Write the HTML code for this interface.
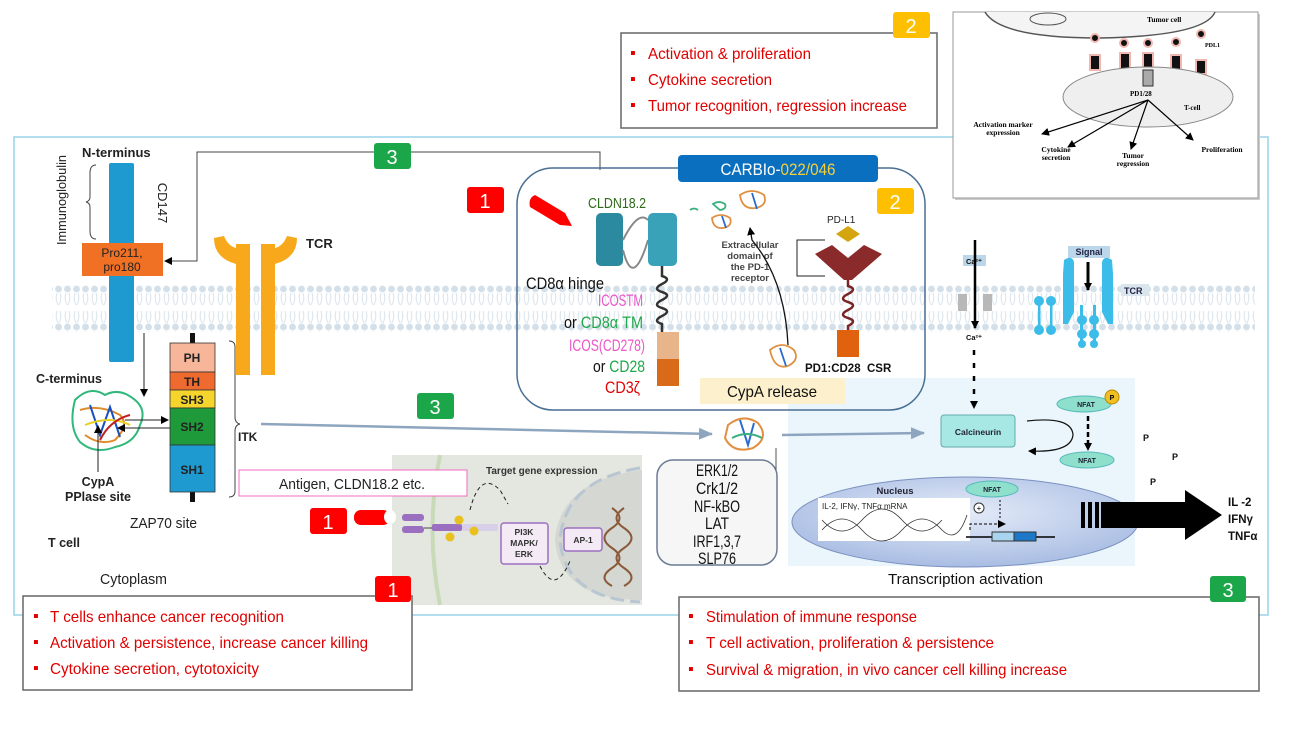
<!DOCTYPE html>
<html><head><meta charset="utf-8"><style>
html,body{margin:0;padding:0;background:#fff}
svg{display:block}
.n{font-family:"Liberation Sans Narrow","Liberation Sans",sans-serif}
.a{font-family:"Liberation Sans",Arial,sans-serif}
.s{font-family:"Liberation Serif",serif;font-weight:bold}
</style></head><body>
<svg width="1292" height="735" viewBox="0 0 1292 735" xmlns="http://www.w3.org/2000/svg">
<defs>
<pattern id="mem" x="0" y="285" width="9" height="46" patternUnits="userSpaceOnUse">
<circle cx="4.5" cy="4" r="3.4" fill="#d3dfe9"/>
<path d="M3 8 q-2 6 1 12 M6 8 q2 6 -1 12 M3 26 q-2 6 1 12 M6 26 q2 6 -1 12" stroke="#dfe7ee" stroke-width="1.2" fill="none"/>
<circle cx="4.5" cy="42" r="3.4" fill="#d3dfe9"/>
</pattern>
<marker id="ah" markerWidth="8" markerHeight="8" refX="7" refY="4" orient="auto" markerUnits="userSpaceOnUse"><path d="M0 0 L8 4 L0 8z" fill="#000"/></marker>
<marker id="ag" markerWidth="14" markerHeight="12" refX="13" refY="6" orient="auto" markerUnits="userSpaceOnUse"><path d="M0 0 L14 6 L0 12z" fill="#8ea5c0"/></marker>
<radialGradient id="nuc" cx="50%" cy="40%" r="60%"><stop offset="0" stop-color="#e4ebf8"/><stop offset="1" stop-color="#a9bde3"/></radialGradient>
</defs>

<rect x="14" y="137" width="1254" height="478" fill="none" stroke="#9ad3ea" stroke-width="1.5"/>

<rect x="788" y="378" width="347" height="188" fill="#eaf6fb"/>
<rect x="392" y="455" width="250" height="150" fill="#e3e7df"/>
<path d="M440 455 Q425 530 440 605" stroke="#c9dab8" stroke-width="4" fill="none"/>
<path d="M642 470 Q560 480 555 540 Q560 600 642 600 Z" fill="#d4d7d2"/>
<path d="M640 468 Q565 480 560 540 Q565 598 640 602" stroke="#b9c6d2" stroke-width="3" stroke-dasharray="14 6" fill="none"/>

<rect x="52" y="285" width="1203" height="47" fill="url(#mem)"/>

<rect x="621" y="33" width="316" height="95" fill="#fff" stroke="#666" stroke-width="1.5"/>
<rect x="893" y="12" width="37" height="26" rx="3" fill="#fdbf00"/>
<text x="911" y="33" class="n" font-size="20" fill="#fff" text-anchor="middle">2</text>
<g class="n" font-size="16" fill="#e00000">
<text x="630" y="58">▪</text><text x="648" y="59" textLength="163" lengthAdjust="spacingAndGlyphs">Activation &amp; proliferation</text>
<text x="630" y="84">▪</text><text x="648" y="85" textLength="124" lengthAdjust="spacingAndGlyphs">Cytokine secretion</text>
<text x="630" y="110">▪</text><text x="648" y="111" textLength="259" lengthAdjust="spacingAndGlyphs">Tumor recognition, regression increase</text>
</g>

<rect x="955" y="14" width="305" height="186" fill="#ccc"/>
<rect x="953" y="12" width="305" height="186" fill="#fff" stroke="#999"/>
<path d="M985 12 Q1000 38 1100 38 Q1205 36 1215 12" fill="#f4f4f4" stroke="#555" stroke-width="1.5"/>
<ellipse cx="1048" cy="19" rx="18" ry="6" fill="none" stroke="#555"/>
<text x="1147" y="22" class="s" font-size="7.5">Tumor cell</text>
<text x="1205" y="47" class="s" font-size="6">PDL1</text>
<g fill="#111" stroke="#f0b8b0" stroke-width="2">
<circle cx="1095" cy="38" r="4"/><circle cx="1124" cy="43" r="4"/><circle cx="1148" cy="43" r="4"/><circle cx="1176" cy="42" r="4"/><circle cx="1201" cy="34" r="4"/>
<rect x="1090" y="55" width="10" height="15"/><rect x="1120" y="53" width="10" height="16"/><rect x="1143" y="53" width="10" height="16"/><rect x="1171" y="55" width="10" height="15"/><rect x="1196" y="60" width="10" height="14"/>
</g>
<ellipse cx="1148" cy="97" rx="85" ry="30" fill="#efefef" stroke="#888"/>
<rect x="1143" y="70" width="10" height="16" fill="#aaa" stroke="#333"/>
<text x="1130" y="96" class="s" font-size="7">PD1/28</text>
<text x="1184" y="110" class="s" font-size="7">T-cell</text>
<g stroke="#000" stroke-width="1.2" marker-end="url(#ah)">
<line x1="1148" y1="100" x2="1042" y2="134"/><line x1="1148" y1="100" x2="1068" y2="147"/><line x1="1148" y1="100" x2="1131" y2="149"/><line x1="1148" y1="100" x2="1193" y2="140"/>
</g>
<g class="s" font-size="7.5" text-anchor="middle">
<text x="1003" y="127">Activation marker</text><text x="1003" y="135">expression</text>
<text x="1056" y="152">Cytokine</text><text x="1056" y="160">secretion</text>
<text x="1133" y="158">Tumor</text><text x="1133" y="166">regression</text>
<text x="1222" y="152">Proliferation</text>
</g>

<text x="82" y="157" class="a" font-size="13" font-weight="bold" fill="#222">N-terminus</text>
<rect x="109" y="163" width="25" height="199" rx="2" fill="#1e9ad0"/>
<path d="M96 165 q-6 0 -6 8 v24 q0 4 -4 5 q4 1 4 5 v24 q0 8 6 8" fill="none" stroke="#444" stroke-width="1"/>
<text transform="translate(66,200) rotate(-90)" class="n" font-size="13" text-anchor="middle" fill="#222" textLength="90" lengthAdjust="spacingAndGlyphs">Immunoglobulin</text>
<text transform="translate(158,203) rotate(90)" class="a" font-size="13" text-anchor="middle" fill="#222">CD147</text>
<rect x="82" y="243" width="81" height="33" fill="#f07024"/>
<text x="122" y="257" class="a" font-size="12" text-anchor="middle" fill="#222">Pro211,</text>
<text x="122" y="271" class="a" font-size="12" text-anchor="middle" fill="#222">pro180</text>
<path d="M600 170 V152 H197 V261 H165" fill="none" stroke="#444" stroke-width="1" marker-end="url(#ah)"/>
<rect x="374" y="143" width="37" height="26" rx="3" fill="#1ba64a"/>
<text x="392" y="164" class="n" font-size="20" fill="#fff" text-anchor="middle">3</text>

<!-- TCR orange -->
<path d="M250 244 L250 375 L236 375 L236 264 Q214 258 214 238 L224 236 Q228 246 236 248 L236 244 Z" fill="#f7a81b"/>
<path d="M261 244 L261 375 L275 375 L275 264 Q297 258 297 238 L287 236 Q283 246 275 248 L275 244 Z" fill="#f7a81b"/>
<text x="306" y="248" class="a" font-size="13" font-weight="bold" fill="#222">TCR</text>

<line x1="144" y1="333" x2="144" y2="396" stroke="#222" stroke-width="1" marker-end="url(#ah)"/>
<rect x="190" y="333" width="5" height="12" fill="#111"/>
<rect x="190" y="490" width="5" height="12" fill="#111"/>
<g stroke="#333" stroke-width="0.8">
<rect x="170" y="343" width="45" height="29" fill="#f7b59a"/>
<rect x="170" y="372" width="45" height="18" fill="#ef6a2e"/>
<rect x="170" y="390" width="45" height="18" fill="#f5d52c"/>
<rect x="170" y="408" width="45" height="37" fill="#1f9a3a"/>
<rect x="170" y="445" width="45" height="47" fill="#1e9ad0"/>
</g>
<g class="a" font-size="12" font-weight="bold" text-anchor="middle" fill="#222">
<text x="192" y="362">PH</text><text x="192" y="386">TH</text><text x="192" y="404">SH3</text><text x="192" y="431">SH2</text><text x="192" y="474">SH1</text>
</g>
<path d="M229 341 q6 0 6 6 v70 q0 6 5 7 q-5 1 -5 7 v60 q0 6 -6 6" fill="none" stroke="#444"/>
<text x="238" y="441" class="a" font-size="12" font-weight="bold" fill="#222">ITK</text>
<text x="36" y="383" class="a" font-size="12.5" font-weight="bold" fill="#222">C-terminus</text>
<g fill="none" stroke-width="2">
<path d="M75 400 q15 -15 30 -5 q15 -8 30 5 q12 10 5 25 q-5 18 -25 22 q-20 8 -35 -5 q-12 -15 -5 -42z" stroke="#2fb87a"/>
<path d="M80 410 q20 -6 40 5 q10 10 -5 25 q-15 6 -30 -5" stroke="#e08a2a"/>
<path d="M90 405 l10 30 l10 -28 l10 30" stroke="#1a50c0"/>
<path d="M85 425 q25 -10 45 0" stroke="#e8d020"/>
<path d="M100 440 q10 -20 30 -25" stroke="#c02020"/>
</g>
<line x1="125" y1="420" x2="168" y2="420" stroke="#222" marker-end="url(#ah)"/>
<line x1="170" y1="428" x2="118" y2="428" stroke="#222" marker-end="url(#ah)"/>
<line x1="98" y1="472" x2="98" y2="426" stroke="#222" marker-end="url(#ah)"/>
<text x="98" y="486" class="a" font-size="12.5" font-weight="bold" text-anchor="middle" fill="#222">CypA</text>
<text x="98" y="501" class="a" font-size="12.5" font-weight="bold" text-anchor="middle" fill="#222">PPlase site</text>
<text x="130" y="528" class="n" font-size="15" fill="#222" textLength="67" lengthAdjust="spacingAndGlyphs">ZAP70 site</text>
<text x="48" y="547" class="a" font-size="12.5" font-weight="bold" fill="#222">T cell</text>
<text x="100" y="584" class="n" font-size="15" fill="#222" textLength="67" lengthAdjust="spacingAndGlyphs">Cytoplasm</text>

<rect x="417" y="393" width="37" height="26" rx="3" fill="#1ba64a"/>
<text x="435" y="414" class="n" font-size="20" fill="#fff" text-anchor="middle">3</text>
<line x1="261" y1="424" x2="712" y2="434" stroke="#8ea5c0" stroke-width="2.5" marker-end="url(#ag)"/>
<rect x="239" y="470" width="228" height="26" fill="#fff" stroke="#f06cc0"/>
<text x="352" y="489" class="n" font-size="15" text-anchor="middle" fill="#222" textLength="146" lengthAdjust="spacingAndGlyphs">Antigen, CLDN18.2 etc.</text>
<rect x="310" y="508" width="37" height="26" rx="3" fill="#ff0000"/>
<text x="328" y="529" class="n" font-size="20" fill="#fff" text-anchor="middle">1</text>
<rect x="354" y="510" width="36" height="15" rx="7" fill="#f00"/>
<ellipse cx="390" cy="517" rx="6" ry="7" fill="#fff"/>
<g fill="#9b6fc0"><rect x="402" y="514" width="22" height="7" rx="3"/><rect x="402" y="526" width="22" height="7" rx="3"/><rect x="432" y="524" width="30" height="7" rx="2"/></g>
<rect x="462" y="524" width="36" height="7" rx="2" fill="#d8d0e8"/>
<line x1="424" y1="528" x2="432" y2="528" stroke="#444"/>
<g fill="#e8c020"><circle cx="459" cy="520" r="4.5"/><circle cx="474" cy="531" r="4.5"/><circle cx="450" cy="537" r="4.5"/></g>
<text x="486" y="474" class="a" font-size="10" font-weight="bold" fill="#333">Target gene expression</text>
<path d="M470 510 q10 -40 30 -20 l8 14" fill="none" stroke="#222" stroke-dasharray="4 3"/>
<rect x="501" y="523" width="47" height="41" rx="3" fill="#f3eaf5" stroke="#9b6fc0" stroke-width="1.5"/>
<g class="a" font-size="8.5" font-weight="bold" text-anchor="middle" fill="#333"><text x="524" y="535">PI3K</text><text x="524" y="546">MAPK/</text><text x="524" y="557">ERK</text></g>
<rect x="564" y="528" width="38" height="23" rx="3" fill="#f3eaf5" stroke="#9b6fc0" stroke-width="1.5"/>
<text x="583" y="543" class="a" font-size="8.5" font-weight="bold" text-anchor="middle" fill="#333">AP-1</text>
<path d="M540 566 q15 30 30 -5" fill="none" stroke="#222" stroke-dasharray="4 3"/>
<path d="M612 508 q15 10 0 20 q-15 10 0 20 q15 10 0 20 q-15 10 0 18 M624 508 q-15 10 0 20 q15 10 0 20 q-15 10 0 20 q15 10 0 18" stroke="#8a5a3a" stroke-width="2" fill="none"/>

<rect x="657" y="460" width="120" height="105" rx="16" fill="#f6f6f6" stroke="#6a7c95" stroke-width="1.5"/>
<line x1="776" y1="448" x2="776" y2="470" stroke="#555"/>
<g class="n" font-size="17" text-anchor="middle" fill="#111" lengthAdjust="spacingAndGlyphs">
<text x="717" y="476" textLength="42" lengthAdjust="spacingAndGlyphs">ERK1/2</text>
<text x="717" y="494" textLength="42" lengthAdjust="spacingAndGlyphs">Crk1/2</text>
<text x="717" y="512" textLength="46" lengthAdjust="spacingAndGlyphs">NF-kBO</text>
<text x="717" y="529" textLength="24" lengthAdjust="spacingAndGlyphs">LAT</text>
<text x="717" y="547" textLength="48" lengthAdjust="spacingAndGlyphs">IRF1,3,7</text>
<text x="717" y="564" textLength="38" lengthAdjust="spacingAndGlyphs">SLP76</text>
</g>
<g fill="none" stroke-width="2"><path d="M728 425 q15 -12 30 -2 q12 15 -5 25 q-20 6 -28 -10z" stroke="#e09040"/><path d="M740 420 l8 25 l6 -22" stroke="#2a6ad0"/><path d="M732 438 q15 -8 30 0" stroke="#3ab080"/></g>
<line x1="782" y1="435" x2="924" y2="433" stroke="#8ea5c0" stroke-width="2.5" marker-end="url(#ag)"/>

<rect x="517" y="168" width="408" height="242" rx="36" fill="none" stroke="#4a6f94" stroke-width="1.5"/>
<rect x="700" y="378" width="145" height="26" fill="#fdf0cc"/>
<text x="772" y="397" class="n" font-size="16" text-anchor="middle" fill="#111" textLength="90" lengthAdjust="spacingAndGlyphs">CypA release</text>
<rect x="678" y="155" width="200" height="27" rx="4" fill="#0a6fbf"/>
<text x="778" y="175" class="n" font-size="17" text-anchor="middle" fill="#fff" textLength="115" lengthAdjust="spacingAndGlyphs">CARBIo-<tspan fill="#f5d03b">022/046</tspan></text>
<rect x="467" y="187" width="37" height="26" rx="3" fill="#ff0000"/>
<text x="485" y="208" class="n" font-size="20" fill="#fff" text-anchor="middle">1</text>
<path d="M535 195 L565 213 L572 226 L560 225 L530 207 Q528 198 535 195z" fill="#f00"/>
<text x="588" y="208" class="n" font-size="15" fill="#2f6b1a" textLength="58" lengthAdjust="spacingAndGlyphs">CLDN18.2</text>
<rect x="596" y="213" width="27" height="53" rx="5" fill="#2b8aa0"/>
<path d="M623 240 q15 -30 25 -20 M623 250 q10 40 25 -10" stroke="#888" stroke-width="2" fill="none"/>
<rect x="648" y="213" width="29" height="53" rx="5" fill="#3aa2b8"/>
<path d="M662 266 v10 q10 3 0 8 q-10 5 0 8 q10 3 0 8 q-10 5 0 8 q10 3 0 8 q-10 5 0 8 v8" stroke="#333" stroke-width="2.5" fill="none"/>
<rect x="657" y="332" width="22" height="27" fill="#e8b58a"/>
<rect x="657" y="359" width="22" height="27" fill="#d96a1a"/>
<g class="n" font-size="17">
<text x="526" y="289" fill="#111" textLength="78" lengthAdjust="spacingAndGlyphs">CD8α  hinge</text>
<text x="598" y="306" fill="#ee55c8" textLength="45" lengthAdjust="spacingAndGlyphs">ICOSTM</text>
<text x="564" y="328" fill="#111" textLength="79" lengthAdjust="spacingAndGlyphs">or <tspan fill="#1fa84a">CD8α TM</tspan></text>
<text x="569" y="351" fill="#ee55c8" textLength="76" lengthAdjust="spacingAndGlyphs">ICOS(CD278)</text>
<text x="593" y="372" fill="#111" textLength="52" lengthAdjust="spacingAndGlyphs">or <tspan fill="#1fa84a">CD28</tspan></text>
<text x="605" y="393" fill="#e00000" textLength="35" lengthAdjust="spacingAndGlyphs">CD3ζ</text>
</g>
<rect x="877" y="188" width="37" height="26" rx="3" fill="#fdbf00"/>
<text x="895" y="209" class="n" font-size="20" fill="#fff" text-anchor="middle">2</text>
<text x="827" y="223" class="a" font-size="10" fill="#222">PD-L1</text>
<path d="M848 226 L860 234 L848 242 L836 234z" fill="#d4a50e"/>
<path d="M815 254 L832 245 L848 258 L864 245 L882 254 L852 280 L844 280z" fill="#8b2a2a"/>
<path d="M848 280 v6 q10 3 0 8 q-10 5 0 8 q10 3 0 8 q-10 5 0 8 q10 3 0 8 v6" stroke="#7a2525" stroke-width="2.5" fill="none"/>
<rect x="837" y="330" width="22" height="27" fill="#e0620f"/>
<path d="M825 240 H797 V276 H825" fill="none" stroke="#222"/>
<g class="a" font-size="9.5" font-weight="bold" text-anchor="middle" fill="#444">
<text x="750" y="248">Extracellular</text><text x="750" y="259">domain of</text><text x="750" y="270">the PD-1</text><text x="750" y="281">receptor</text>
</g>
<path d="M788 345 Q785 280 752 240 L750 228" fill="none" stroke="#111" stroke-width="1.3" marker-end="url(#ah)"/>
<g fill="none" stroke-width="1.8">
<path d="M770 350 q12 -10 24 0 q6 10 -6 16 q-14 4 -18 -16z" stroke="#e09040"/><path d="M780 348 l6 18" stroke="#2a6ad0"/>
<path d="M740 195 q12 -8 24 0 q4 10 -8 13 q-14 2 -16 -13z" stroke="#e09040"/><path d="M752 193 l5 16" stroke="#2a6ad0"/>
<path d="M712 218 q9 -6 18 0 q3 8 -7 10 q-10 1 -11 -10z" stroke="#e09040"/><path d="M722 216 l4 12" stroke="#2a6ad0"/>
<path d="M713 204 q6 -4 12 0 q2 5 -5 6z" stroke="#3ab080"/><path d="M690 210 q4 -3 8 0" stroke="#3ab080"/>
</g>
<text x="805" y="372" class="a" font-size="11.5" font-weight="bold" fill="#111">PD1:CD28&#160;&#160;CSR</text>

<rect x="963" y="255" width="23" height="11" fill="#bcd6ea"/>
<text x="974" y="264" class="a" font-size="7.5" font-weight="bold" text-anchor="middle" fill="#111">Ca²⁺</text>
<rect x="958" y="294" width="9" height="17" fill="#b8b8b8"/>
<rect x="983" y="294" width="9" height="17" fill="#b8b8b8"/>
<line x1="975" y1="240" x2="975" y2="328" stroke="#000" stroke-width="2.5" marker-end="url(#ah)"/>
<text x="974" y="340" class="a" font-size="7.5" font-weight="bold" text-anchor="middle" fill="#111">Ca²⁺</text>
<line x1="974" y1="350" x2="974" y2="405" stroke="#000" stroke-width="2.5" stroke-dasharray="5 8"/>
<line x1="974" y1="404" x2="974" y2="408" stroke="#000" marker-end="url(#ah)"/>
<rect x="1068" y="246" width="42" height="12" fill="#bcd6ea"/>
<text x="1089" y="255" class="a" font-size="9" font-weight="bold" text-anchor="middle" fill="#224">Signal</text>
<line x1="1088" y1="262" x2="1088" y2="290" stroke="#000" stroke-width="3" marker-end="url(#ah)"/>
<g fill="#3cbce8">
<path d="M1064 260 q8 -5 10 2 v50 l-6 12 h-5 v-50z"/><path d="M1112 260 q-8 -5 -10 2 v50 l6 12 h5 v-50z"/>
<circle cx="1039" cy="301" r="5"/><circle cx="1051" cy="301" r="5"/><circle cx="1039" cy="330" r="5"/><circle cx="1051" cy="330" r="5"/>
<rect x="1038" y="301" width="2.5" height="29"/><rect x="1050" y="301" width="2.5" height="29"/>
<circle cx="1082" cy="320" r="5"/><circle cx="1094" cy="320" r="5"/><circle cx="1082" cy="334" r="5"/><circle cx="1094" cy="334" r="5"/><circle cx="1082" cy="344" r="4"/><circle cx="1094" cy="344" r="4"/>
<rect x="1080" y="305" width="3" height="40"/><rect x="1093" y="305" width="3" height="40"/>
</g>
<rect x="1121" y="284" width="28" height="12" fill="#dbe5ee"/>
<text x="1124" y="294" class="a" font-size="9" font-weight="bold" fill="#224">TCR</text>

<rect x="941" y="415" width="74" height="32" rx="3" fill="#a8e8e4" stroke="#6aa"/>
<text x="978" y="435" class="a" font-size="8.5" font-weight="bold" text-anchor="middle" fill="#223">Calcineurin</text>
<path d="M1027 421 q45 -5 46 14 q-2 18 -44 16" fill="none" stroke="#111" stroke-width="1.2" marker-end="url(#ah)"/>
<ellipse cx="1084" cy="404" rx="27" ry="8" fill="#8ee0cc" stroke="#5bb"/>
<text x="1086" y="407" class="a" font-size="7" font-weight="bold" text-anchor="middle" fill="#223">NFAT</text>
<circle cx="1112" cy="397" r="7" fill="#f0c020" stroke="#b80"/>
<text x="1112" y="400" class="a" font-size="7" font-weight="bold" text-anchor="middle">P</text>
<line x1="1088" y1="416" x2="1088" y2="447" stroke="#000" stroke-width="2.5" stroke-dasharray="5 3"/>
<line x1="1088" y1="444" x2="1088" y2="450" stroke="#000" marker-end="url(#ah)"/>
<ellipse cx="1087" cy="460" rx="27" ry="8" fill="#8ee0cc" stroke="#5bb"/>
<text x="1087" y="463" class="a" font-size="7" font-weight="bold" text-anchor="middle" fill="#223">NFAT</text>
<g class="a" font-size="9" font-weight="bold" fill="#111"><text x="1143" y="441">P</text><text x="1172" y="460">P</text><text x="1150" y="485">P</text></g>

<ellipse cx="965" cy="522" rx="173" ry="45" fill="url(#nuc)" stroke="#7c90c0"/>
<text x="895" y="494" class="a" font-size="9.5" font-weight="bold" text-anchor="middle" fill="#223">Nucleus</text>
<rect x="818" y="498" width="152" height="43" fill="#fff"/>
<text x="822" y="509" class="a" font-size="8" fill="#222">IL-2, IFNγ, TNFα mRNA</text>
<path d="M822 530 q20 -22 40 0 q20 22 40 0 q20 -22 40 0 q15 15 25 -15 M822 520 q20 22 40 0 q20 -22 40 0 q20 22 40 0" fill="none" stroke="#333" stroke-width="0.8"/>
<ellipse cx="992" cy="489" rx="26" ry="8" fill="#8ee0cc" stroke="#5bb"/>
<text x="992" y="492" class="a" font-size="7" font-weight="bold" text-anchor="middle" fill="#223">NFAT</text>
<circle cx="979" cy="508" r="5" fill="#fff" stroke="#333"/>
<text x="979" y="511" class="a" font-size="8" text-anchor="middle">+</text>
<line x1="1000" y1="500" x2="1000" y2="518" stroke="#000" stroke-dasharray="2 2"/>
<path d="M970 530 v-6 h35" fill="none" stroke="#000" stroke-dasharray="3 2" marker-end="url(#ah)"/>
<line x1="966" y1="537" x2="1055" y2="537" stroke="#000" stroke-width="1.5"/>
<rect x="992" y="532" width="22" height="9" fill="#a8d4ef" stroke="#333"/>
<rect x="1014" y="532" width="22" height="9" fill="#1e78c8" stroke="#333"/>

<rect x="1081" y="502" width="4" height="26" fill="#000"/><rect x="1088" y="502" width="4" height="26" fill="#000"/><rect x="1095" y="502" width="4" height="26" fill="#000"/>
<path d="M1101 502 H1185 V490 L1222 515 L1185 540 V528 H1101z" fill="#000"/>
<g class="a" font-size="11.5" font-weight="bold" fill="#111"><text x="1228" y="506">IL -2</text><text x="1228" y="523">IFNγ</text><text x="1228" y="540">TNFα</text></g>
<text x="888" y="584" class="n" font-size="15" fill="#111" textLength="155" lengthAdjust="spacingAndGlyphs">Transcription activation</text>

<rect x="23" y="596" width="389" height="94" fill="#fff" stroke="#666" stroke-width="1.5"/>
<rect x="375" y="576" width="36" height="26" rx="3" fill="#ff0000"/>
<text x="393" y="597" class="n" font-size="20" fill="#fff" text-anchor="middle">1</text>
<g class="n" font-size="16" fill="#e00000">
<text x="33" y="621">▪</text><text x="50" y="622" textLength="234" lengthAdjust="spacingAndGlyphs">T cells enhance cancer recognition</text>
<text x="33" y="647">▪</text><text x="50" y="648" textLength="318" lengthAdjust="spacingAndGlyphs">Activation &amp; persistence, increase cancer killing</text>
<text x="33" y="673">▪</text><text x="50" y="674" textLength="209" lengthAdjust="spacingAndGlyphs">Cytokine secretion, cytotoxicity</text>
</g>
<rect x="679" y="597" width="580" height="94" fill="#fff" stroke="#666" stroke-width="1.5"/>
<rect x="1210" y="576" width="36" height="26" rx="3" fill="#1ba64a"/>
<text x="1228" y="597" class="n" font-size="20" fill="#fff" text-anchor="middle">3</text>
<g class="n" font-size="16" fill="#e00000">
<text x="688" y="621">▪</text><text x="706" y="622" textLength="211" lengthAdjust="spacingAndGlyphs">Stimulation of immune response</text>
<text x="688" y="647">▪</text><text x="706" y="648" textLength="288" lengthAdjust="spacingAndGlyphs">T cell activation, proliferation &amp; persistence</text>
<text x="688" y="674">▪</text><text x="706" y="675" textLength="361" lengthAdjust="spacingAndGlyphs">Survival &amp; migration, in vivo cancer cell killing increase</text>
</g>
</svg>
</body></html>
